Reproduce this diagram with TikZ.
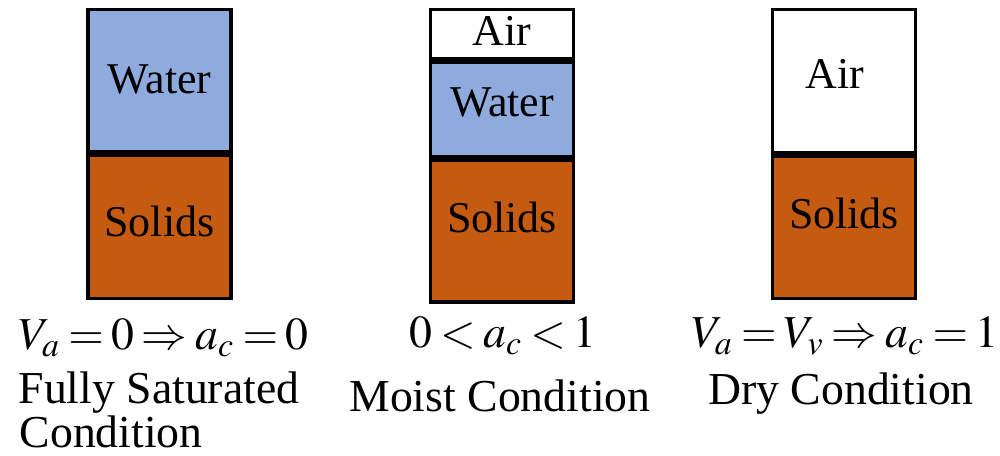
\documentclass[tikz,border=0pt]{standalone}
\usepackage{mathptmx}
\usepackage{fontspec}
\setmainfont{Liberation Serif}
\usetikzlibrary{positioning}
\definecolor{waterblue}{HTML}{8FAADC}
\definecolor{soilbrown}{HTML}{C55A11}
\thickmuskip=3mu plus 2mu\relax
\medmuskip=2mu plus 2mu minus 2mu\relax
\tikzset{
  layer/.style={draw, line width=1pt, minimum width=1.43cm, inner sep=0pt,
    font=\fontsize{12.5}{14}\selectfont},
  caption/.style={font=\fontsize{13}{14}\selectfont, inner sep=0pt},
}

\begin{document}
\begin{tikzpicture}[x=0.01cm,y=-0.01cm]
\useasboundingbox (0,0) rectangle (1000,456);

% fully saturated
\node[layer,fill=waterblue,minimum height=1.42cm,text depth=0.04cm,anchor=north] (water1) at (159.5,8) {Water};
\node[layer,fill=soilbrown,minimum height=1.43cm,text depth=0.12cm,below=0pt of water1] (solids1) {Solids};

% moist
\node[layer,fill=white,minimum height=0.49cm,text depth=0.06cm,anchor=north] (air2) at (502,8) {Air};
\node[layer,fill=waterblue,minimum height=0.94cm,text depth=0.14cm,below=0pt of air2] (water2) {Water};
\node[layer,fill=soilbrown,minimum height=1.42cm,text depth=0.28cm,below=0pt of water2] (solids2) {Solids};

% dry
\node[layer,fill=white,minimum height=1.43cm,anchor=north] (air3) at (844,8) {};
\node[layer,draw=none,anchor=center] (airtext3) at ([shift={(-9,-7)}]air3.center) {Air};
\node[layer,fill=soilbrown,minimum height=1.42cm,text depth=0.28cm,below=0pt of air3] (solids3) {Solids};

% captions
\node[caption,anchor=base west] (eq1) at (18,350) {$V_a=0\Rightarrow a_c=0$};
\node[caption,anchor=base west] (sat1) at (18,404) {Fully Saturated};
\node[caption,anchor=base west] (cond1) at (19,448) {Condition};

\node[caption,anchor=base] (eq2) at (503,348) {$0<a_c<1$};
\node[caption,anchor=base] (moist2) at (500,412) {Moist Condition};

\node[caption,anchor=base] (eq3) at (845,348) {$V_a=V_v\Rightarrow a_c=1$};
\node[caption,anchor=base] (dry3) at (841,405) {Dry Condition};

\end{tikzpicture}
\end{document}
